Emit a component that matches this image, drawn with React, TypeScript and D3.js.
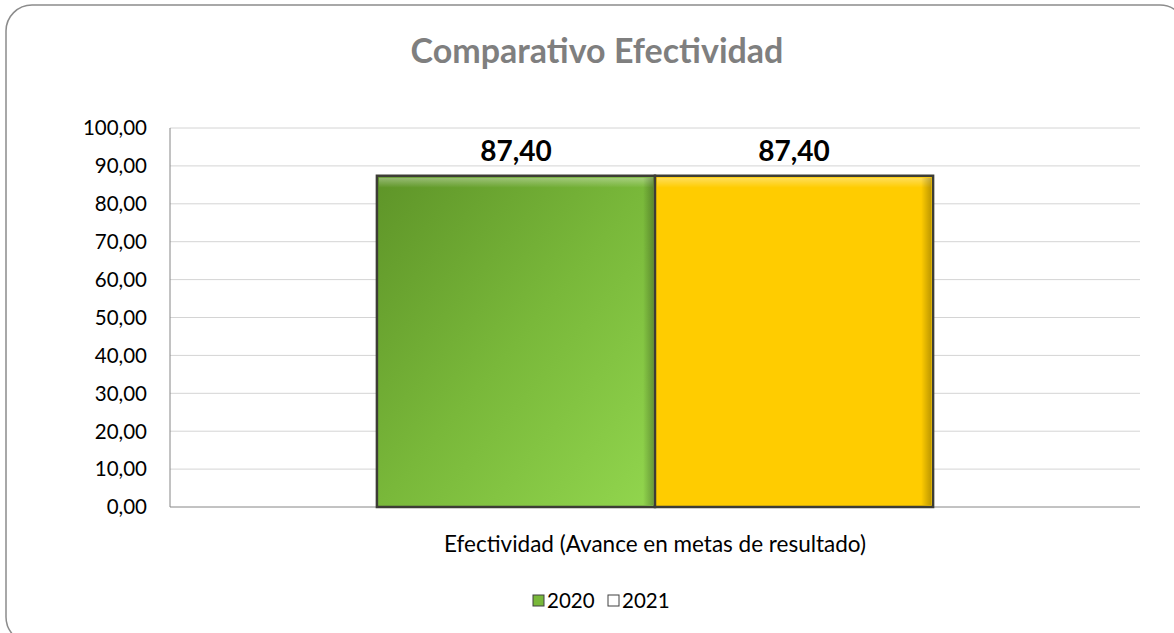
import React from "react";
import * as d3 from "d3";

const categories = ["Efectividad (Avance en metas de resultado)"];
const seriesNames = ["2020", "2021"];
const values2020 = [87.4];
const values2021 = [87.4];
const yTicks = [0, 10, 20, 30, 40, 50, 60, 70, 80, 90, 100];

const W = 1174;
const H = 633;
const plot = { left: 170, right: 1140, top: 128, bottom: 507 };

const fmt = (v: number) => v.toFixed(2).replace(".", ",");

export default function App() {
  const y = d3.scaleLinear().domain([0, 100]).range([plot.bottom, plot.top]);
  const x0 = d3
    .scaleBand<string>()
    .domain(categories)
    .range([plot.left, plot.right])
    .paddingInner(0)
    .paddingOuter(0.372);
  const x1 = d3.scaleBand<string>().domain(seriesNames).range([0, x0.bandwidth()]).padding(0);
  const seriesValues: Record<string, number[]> = { "2020": values2020, "2021": values2021 };
  const fills: Record<string, string> = { "2020": "url(#gGreen)", "2021": "url(#gYellow)" };
  const font = "Lato, 'Open Sans', sans-serif";

  return (
    <svg width={W} height={H} style={{ position: "absolute", left: 0, top: 0, background: "#fff" }}>
      <defs>
        <linearGradient id="gGreen" x1="0" y1="0" x2="1" y2="1">
          <stop offset="0" stopColor="#5e9428" />
          <stop offset="0.5" stopColor="#79b83a" />
          <stop offset="1" stopColor="#92d64e" />
        </linearGradient>
        <linearGradient id="gYellow" x1="0" y1="0" x2="1" y2="1">
          <stop offset="0" stopColor="#ffcc00" />
          <stop offset="1" stopColor="#ffcc00" />
        </linearGradient>
        <linearGradient id="bevelTop" x1="0" y1="0" x2="0" y2="1">
          <stop offset="0" stopColor="#ffffff" stopOpacity="0.35" />
          <stop offset="1" stopColor="#ffffff" stopOpacity="0" />
        </linearGradient>
        <linearGradient id="bevelRight" x1="0" y1="0" x2="1" y2="0">
          <stop offset="0" stopColor="#000000" stopOpacity="0" />
          <stop offset="1" stopColor="#000000" stopOpacity="0.25" />
        </linearGradient>
      </defs>
      <rect x={6} y={5} width={1180} height={638} rx={26} ry={26} fill="#fff" stroke="#8c8c8c" strokeWidth={1.5} />

      <text x={597} y={63} textAnchor="middle" fontFamily={font} fontWeight="bold" fontSize={34} fill="#7f7f7f">
        Comparativo Efectividad
      </text>

      {yTicks.map((t) => (
        <g key={t}>
          {t > 0 && (
            <line x1={plot.left} x2={plot.right} y1={y(t)} y2={y(t)} stroke="#d4d4d4" strokeWidth={1} />
          )}
          <text
            x={plot.left - 23}
            y={y(t)}
            dy="0.36em"
            textAnchor="end"
            fontFamily={font}
            fontSize={20.5}
            fill="#000"
          >
            {fmt(t)}
          </text>
        </g>
      ))}
      <line x1={plot.left} x2={plot.left} y1={plot.top} y2={plot.bottom} stroke="#868686" strokeWidth={1} />
      <line x1={plot.left} x2={plot.right} y1={plot.bottom} y2={plot.bottom} stroke="#868686" strokeWidth={1} />

      {categories.map((c, ci) => (
        <g key={c} transform={`translate(${x0(c)},0)`}>
          {seriesNames.map((s) => {
            const v = seriesValues[s][ci];
            const bx = x1(s)!;
            const bw = x1.bandwidth();
            const by = y(v);
            const bh = y(0) - by;
            return (
              <g key={s}>
                <rect x={bx} y={by} width={bw} height={bh} fill={fills[s]} stroke="#3d3d35" strokeWidth={2.5} />
                <rect x={bx + 2} y={by + 2} width={bw - 4} height={10} fill="url(#bevelTop)" />
                <rect x={bx + bw - 12} y={by + 2} width={10} height={bh - 4} fill="url(#bevelRight)" />
                <text
                  x={bx + bw / 2}
                  y={by - 15}
                  textAnchor="middle"
                  fontFamily={font}
                  fontWeight="bold"
                  fontSize={28}
                  fill="#000"
                >
                  {fmt(v)}
                </text>
              </g>
            );
          })}
          <text
            x={x0.bandwidth() / 2}
            y={plot.bottom + 45}
            textAnchor="middle"
            fontFamily={font}
            fontSize={22.5}
            fill="#000"
          >
            {c}
          </text>
        </g>
      ))}

      <g transform="translate(533,601)">
        <rect x={0} y={-6} width={11} height={11} fill="#79b83a" stroke="#404040" strokeWidth={1} />
        <text x={14} y={0} dy="0.36em" fontFamily={font} fontSize={20.5} fill="#000">
          {seriesNames[0]}
        </text>
        <rect x={75} y={-6} width={11} height={11} fill="#fff" stroke="#404040" strokeWidth={1} />
        <text x={89} y={0} dy="0.36em" fontFamily={font} fontSize={20.5} fill="#000">
          {seriesNames[1]}
        </text>
      </g>
    </svg>
  );
}
